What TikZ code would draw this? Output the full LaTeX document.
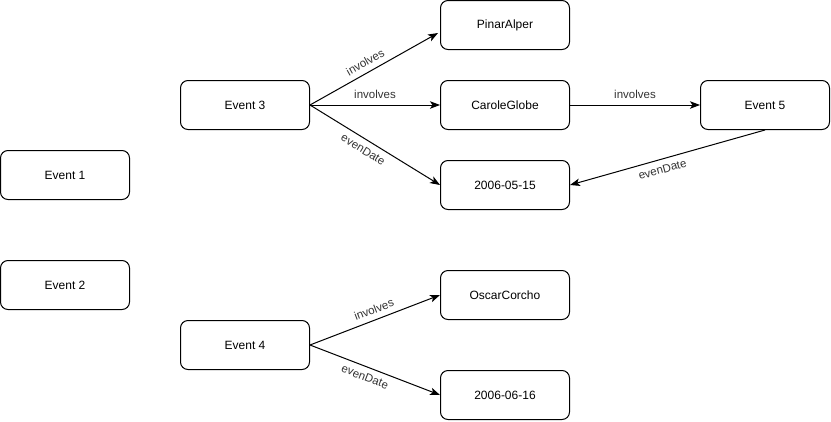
\documentclass[tikz,border=0pt]{standalone}
\usepackage{fontspec}
\setmainfont{Liberation Sans}
\usetikzlibrary{arrows.meta,calc}
\begin{document}
\begin{tikzpicture}[x=1pt,y=-1pt,
  box/.style={draw,line width=1pt,rounded corners=7.5pt,minimum width=129pt,minimum height=49pt,inner sep=0pt,font=\fontsize{12}{14}\selectfont},
  conn/.style={line width=1pt,-{Stealth[length=10pt,width=7.5pt,inset=2.5pt]}},
  lbl/.style={font=\fontsize{11.5}{13}\selectfont,text=black!80,inner sep=5.5pt}]
\useasboundingbox (0,0) rectangle (831,421);
\node[box] (e1) at (65,175) {Event 1};
\node[box] (e2) at (65,285) {Event 2};
\node[box] (e3) at (245,105) {Event 3};
\node[box] (pa) at (505,25) {PinarAlper};
\node[box] (cg) at (505,105) {CaroleGlobe};
\node[box] (e5) at (765,105) {Event 5};
\node[box] (d1) at (505,185) {2006-05-15};
\node[box] (oc) at (505,295) {OscarCorcho};
\node[box] (e4) at (245,345) {Event 4};
\node[box] (d2) at (505,395) {2006-06-16};
\coordinate (paend) at ($(pa.west)+(-2,8)$);
\draw[conn] (e3.east) -- node[lbl,sloped,above,pos=0.47] {involves} (paend);
\draw[conn] (e3.east) -- node[lbl,above] {involves} (cg.west);
\draw[conn] (e3.east) -- node[lbl,sloped,below,pos=0.45] {evenDate} (d1.west);
\draw[conn] (cg.east) -- node[lbl,above] {involves} (e5.west);
\draw[conn] (e5.south) -- node[lbl,sloped,below,pos=0.54] {evenDate} (d1.east);
\draw[conn] (e4.east) -- node[lbl,sloped,above,pos=0.52] {involves} (oc.west);
\draw[conn] (e4.east) -- node[lbl,sloped,below,pos=0.45] {evenDate} (d2.west);
\end{tikzpicture}
\end{document}
